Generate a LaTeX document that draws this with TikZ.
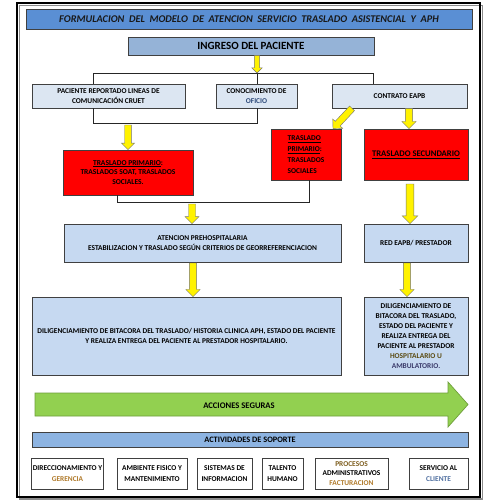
\documentclass[tikz,border=0pt]{standalone}
\usepackage{fontspec}
\setmainfont{Carlito}
\usetikzlibrary{calc}
\definecolor{titleblue}{HTML}{5A8FD4}
\definecolor{ingblue}{HTML}{95B3D7}
\definecolor{boxlight}{HTML}{DCE6F2}
\definecolor{boxmid}{HTML}{C6D9F1}
\definecolor{actblue}{HTML}{8DB4E2}
\definecolor{greenarr}{HTML}{92D050}
\definecolor{greenline}{HTML}{6E9E3A}
\definecolor{oficio}{HTML}{2E4A7A}
\definecolor{gerencia}{HTML}{B07A2A}
\definecolor{procesos}{HTML}{7F5F20}
\definecolor{cliente}{HTML}{4F6FA0}
\definecolor{hospcol}{HTML}{5A4A10}
\definecolor{ambcol}{HTML}{3A3A6A}
\newcommand\yarr[3]{%
  \path[yarrow] let \p1=#2, \p2=#3,
    \n1={atan2(\y2-\y1,\x2-\x1)}, \n2={veclen(\x2-\x1,\y2-\y1)}, \n3={#1} in
    [shift={(\p1)}, rotate=\n1]
    (0pt,{-\n3*1pt}) -- ({\n2*1pt-2*\n3*1pt},{-\n3*1pt}) -- ({\n2*1pt-2*\n3*1pt},{-2*\n3*1pt})
    -- ({\n2*1pt},0pt) -- ({\n2*1pt-2*\n3*1pt},{2*\n3*1pt}) -- ({\n2*1pt-2*\n3*1pt},{\n3*1pt})
    -- (0pt,{\n3*1pt}) -- cycle;}
\begin{document}
\begin{tikzpicture}[x=1pt,y=-1pt,
  box/.style={draw=black!75, line width=0.7pt, align=center, inner sep=1pt,
    font=\fontsize{7.4}{10.5}\selectfont\bfseries, text=black},
  lbox/.style={box, fill=boxlight},
  mbox/.style={box, fill=boxmid},
  rbox/.style={box, fill=red},
  wbox/.style={box, fill=white},
  conn/.style={draw=black!85, line width=0.6pt},
  yarrow/.style={draw=black!55, line width=0.4pt, fill=yellow}]
\useasboundingbox (0,0) rectangle (500,500);
\fill[white] (0,0) rectangle (500,500);
% frame
\draw[black!45, line width=1.4pt] (19.5,5.5) rectangle (482.5,499);
\draw[black, line width=1.6pt] (17,3) rectangle (480,497);
% title
\node[box, fill=titleblue, minimum width=446pt, minimum height=20pt,
  font=\fontsize{10.3}{12}\selectfont\bfseries\itshape, text=black!90] (title) at (249,19)
  {FORMULACION\ \ DEL\ \ MODELO\ \ DE\ \ ATENCION\ \ SERVICIO\ \ TRASLADO\ \ ASISTENCIAL\ \ Y\ \ APH};
% ingreso
\node[box, fill=ingblue, minimum width=246pt, minimum height=18pt,
  font=\fontsize{11}{13}\selectfont\bfseries] (ingreso) at (251,46) {INGRESO DEL PACIENTE};
% row 2
\node[lbox, minimum width=153pt, minimum height=24pt] (A) at (108.5,96)
  {PACIENTE REPORTADO LINEAS DE\\COMUNICACIÓN CRUET};
\node[lbox, minimum width=81pt, minimum height=24pt] (B) at (256.5,96)
  {CONOCIMIENTO DE\\{\color{oficio}OFICIO}};
\node[lbox, minimum width=135pt, minimum height=24pt] (C) at (399.5,96) {CONTRATO EAPB};
% red boxes
\node[rbox, minimum width=130pt, minimum height=45pt, font=\fontsize{7.5}{9.8}\selectfont\bfseries] (red1) at (128,172.5)
  {\underline{TRASLADO PRIMARIO}:\\TRASLADOS SOAT, TRASLADOS\\SOCIALES.};
\node[rbox, minimum width=70pt, minimum height=51pt, align=left, font=\fontsize{7.4}{11}\selectfont\bfseries] (red2) at (306,154.5)
  {\underline{TRASLADO}\\\underline{PRIMARIO}:\\TRASLADOS\\SOCIALES};
\node[rbox, minimum width=104pt, minimum height=51pt, font=\fontsize{8.6}{10}\selectfont\bfseries] (red3) at (416,154.5)
  {\underline{TRASLADO SECUNDARIO}};
% third row
\node[mbox, minimum width=277pt, minimum height=38pt] (aten) at (202.5,243)
  {ATENCION PREHOSPITALARIA\\ESTABILIZACION Y TRASLADO SEGÚN CRITERIOS DE GEORREFERENCIACION};
\node[mbox, minimum width=104pt, minimum height=38pt] (red) at (416,243) {RED EAPB/ PRESTADOR};
% fourth row
\node[mbox, minimum width=309pt, minimum height=78pt] (dil1) at (186.5,336)
  {DILIGENCIAMIENTO DE BITACORA DEL TRASLADO/ HISTORIA CLINICA APH, ESTADO DEL PACIENTE\\Y REALIZA ENTREGA DEL PACIENTE AL PRESTADOR HOSPITALARIO.};
\node[mbox, minimum width=104pt, minimum height=78pt, font=\fontsize{7.4}{10}\selectfont\bfseries] (dil2) at (416,336)
  {DILIGENCIAMIENTO DE\\BITACORA DEL TRASLADO,\\ESTADO DEL PACIENTE Y\\REALIZA ENTREGA DEL\\PACIENTE AL PRESTADOR\\{\color{hospcol}HOSPITALARIO U}\\{\color{ambcol}AMBULATORIO.}};
% green arrow
\path[fill=greenarr, draw=greenline, line width=0.7pt]
  (35,393) -- (448,393) -- (448,382) -- (468,404.5) -- (448,427) -- (448,416) -- (35,416) -- cycle;
\node[font=\fontsize{8.6}{10}\selectfont\bfseries, inner sep=0pt] (acc) at (239,406) {ACCIONES SEGURAS};
% actividades
\node[box, fill=actblue, minimum width=436pt, minimum height=15pt,
  font=\fontsize{8.3}{10}\selectfont\bfseries] (act) at (250,439.5) {ACTIVIDADES DE SOPORTE};
% bottom boxes
\node[wbox, minimum width=71pt, minimum height=31pt] (b1) at (67.5,473.5) {DIRECCIONAMIENTO Y\\{\color{gerencia}GERENCIA}};
\node[wbox, minimum width=70pt, minimum height=31pt] (b2) at (152,473.5) {AMBIENTE FISICO Y\\MANTENIMIENTO};
\node[wbox, minimum width=55pt, minimum height=31pt] (b3) at (224.5,473.5) {SISTEMAS DE\\INFORMACION};
\node[wbox, minimum width=41pt, minimum height=31pt] (b4) at (282.5,473.5) {TALENTO\\HUMANO};
\node[wbox, minimum width=73pt, minimum height=31pt, font=\fontsize{7.4}{9.2}\selectfont\bfseries] (b5) at (351.5,473.5)
  {{\color{procesos}PROCESOS}\\ADMINISTRATIVOS\\{\color{gerencia}FACTURACION}};
\node[wbox, minimum width=59pt, minimum height=31pt] (b6) at (438.5,473.5) {SERVICIO AL\\{\color{cliente}CLIENTE}};
% connectors (tree)
\coordinate (tl) at (93,73);
\coordinate (tm) at (257,73);
\coordinate (tr) at (373,73);
\draw[conn] (tl |- A.north) -- (tl) -- (tr) -- (tr |- C.north);
\draw[conn] (tm) -- (tm |- B.north);
\coordinate (ab) at (0,123);
\draw[conn] (tl |- A.south) -- (tl |- ab) -- (tm |- ab) -- (tm |- B.south);
\coordinate (rb1) at (117,202);
\coordinate (rb2) at (309,202);
\draw[conn] (rb1 |- red1.south) -- (rb1) -- (rb2) -- (rb2 |- red2.south);
% yellow arrows
\yarr{2.6}{(tm |- ingreso.south)}{(tm)}
\coordinate (r1a) at (128,125);
\yarr{3.3}{(r1a)}{(r1a |- red1.north)}
\coordinate (d1) at (352,0);
\coordinate (d2) at (333,0);
\yarr{3.4}{(d1 |- C.south)}{(d2 |- red2.north)}
\coordinate (c3) at (409,0);
\yarr{3.6}{(c3 |- C.south)}{(c3 |- red3.north)}
\coordinate (c4) at (410,184);
\yarr{3.9}{(c4)}{(c4 |- red.north)}
\coordinate (ata) at (192,204);
\yarr{3.5}{(ata)}{(ata |- aten.north)}
\coordinate (c5) at (193,263);
\yarr{3.6}{(c5)}{(c5 |- dil1.north)}
\coordinate (c6) at (407,263);
\yarr{3.6}{(c6)}{(c6 |- dil2.north)}
\end{tikzpicture}
\end{document}
